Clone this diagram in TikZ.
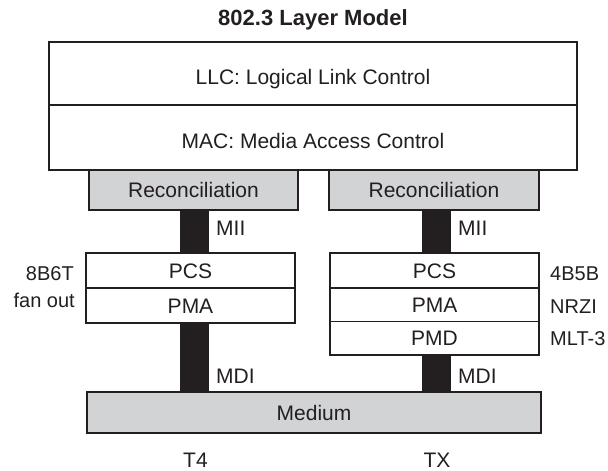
\documentclass[tikz,border=0pt]{standalone}
\usepackage{fontspec}
\setmainfont{Liberation Sans}
\definecolor{ink}{HTML}{231F20}
\definecolor{panel}{HTML}{D1D3D4}
\tikzset{
  txt/.style={font=\fontsize{21}{25}\selectfont, text=ink},
  layer/.style={txt, draw=ink, line width=1.4pt, inner sep=0pt,
    text height=15pt, text depth=0pt},
  toplayer/.style={layer, minimum width=528pt, text height=21pt},
  shaded/.style={layer, fill=panel},
  sublayer/.style={layer, minimum width=209pt},
  link/.style={draw=ink, line width=29pt},
  tagw/.style={txt, inner sep=0pt, anchor=base west},
  tage/.style={txt, inner sep=0pt, anchor=base east},
  tagc/.style={txt, inner sep=0pt, anchor=base},
  note/.style={font=\fontsize{20}{24}\selectfont},
}
\begin{document}
\begin{tikzpicture}[x=1pt, y=-1pt]
\useasboundingbox (0,0) rectangle (608,471);

% title
\node[tagc, font=\fontsize{22}{26}\selectfont\bfseries] (title) at (313,25) {802.3 Layer Model};

% upper layers
\node[toplayer, minimum height=63pt] (llc) at (313,73.5) {LLC: Logical Link Control};
\node[toplayer, minimum height=65pt] (mac) at (313,137.5) {MAC: Media Access Control};

% reconciliation sublayers
\node[shaded, minimum width=209pt, minimum height=40pt] (recL) at (193.5,190) {Reconciliation};
\node[shaded, minimum width=210pt, minimum height=40pt] (recR) at (434,190) {Reconciliation};

% T4 physical stack
\node[sublayer, minimum height=35pt] (pcsL) at (190.5,270.5) {PCS};
\node[sublayer, minimum height=35pt] (pmaL) at (190.5,305.5) {PMA};

% TX physical stack
\node[sublayer, minimum height=35pt] (pcsR) at (434.5,270.5) {PCS};
\node[sublayer, minimum height=33.5pt] (pmaR) at (434.5,304.75) {PMA};
\node[sublayer, minimum height=33.5pt] (pmdR) at (434.5,338.25) {PMD};

% shared medium
\node[shaded, minimum width=454pt, minimum height=41pt] (medium) at (314,412.5) {Medium};

% interfaces between the layers
\draw[link] ([xshift=1pt]recL.south) -- ([xshift=1pt]recL.south |- pcsL.north);
\draw[link] ([xshift=4pt]pmaL.south) -- ([xshift=4pt]pmaL.south |- medium.north);
\draw[link] ([xshift=2.5pt]recR.south) -- ([xshift=2.5pt]recR.south |- pcsR.north);
\draw[link] ([xshift=2pt]pmdR.south) -- ([xshift=2pt]pmdR.south |- medium.north);

% interface names
\node[tagw] (miiL) at (216,235) {MII};
\node[tagw] (miiR) at (458,235) {MII};
\node[tagw] (mdiL) at (216,383) {MDI};
\node[tagw] (mdiR) at (458,383) {MDI};

% coding notes
\node[tage, note] (cT4a) at (74,280) {8B6T};
\node[tage, note] (cT4b) at (75,307) {fan out};
\node[tagw, note] (cTXa) at (550,280) {4B5B};
\node[tagw, note] (cTXb) at (550,313) {NRZI};
\node[tagw, note] (cTXc) at (550,345) {MLT-3};

% variant names
\node[tagc] (t4) at (195.5,467) {T4};
\node[tagc] (tx) at (437,467) {TX};
\end{tikzpicture}
\end{document}
